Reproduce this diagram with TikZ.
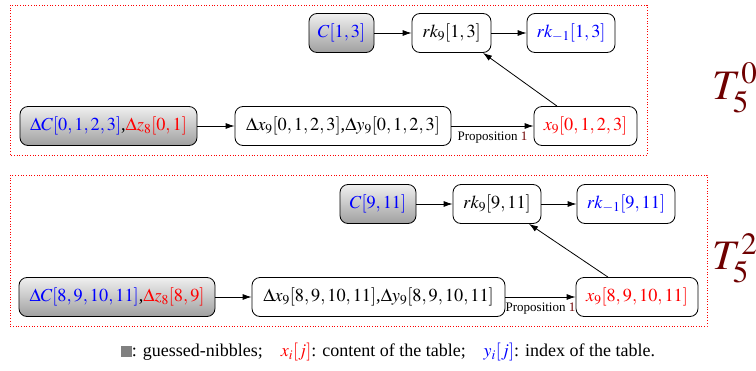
\documentclass[tikz,border=0pt]{standalone}
\usepackage{mathptmx}
\usepackage{fontspec}
\setmainfont{Liberation Serif}
\usetikzlibrary{arrows.meta}
\definecolor{darkred}{RGB}{110,0,0}
\begin{document}
\begin{tikzpicture}[x=1pt,y=-1pt,
  box/.style={draw=black, line width=0.8pt, rounded corners=8pt, minimum height=39pt, inner xsep=2pt, inner ysep=0pt, font=\fontsize{18.3}{22}\selectfont},
  guess/.style={box, top color=gray!12, bottom color=gray!75},
  frame/.style={draw=red, dotted, line width=0.7pt},
  arr/.style={-{Latex[length=9pt,width=6pt]}, line width=0.8pt},
  prop/.style={below, font=\fontsize{13}{15}\selectfont, inner sep=2pt, yshift=-3pt},
  tlab/.style={text=darkred, font=\fontsize{42}{46}\selectfont}
]
\useasboundingbox (0,0) rectangle (756,370);
% frames
\draw[frame] (10,5) rectangle (647,155);
\draw[frame] (10,175) rectangle (707,326);
% top section
\node[guess, minimum width=65pt] (c1) at (341.5,33) {\textcolor{blue}{$C[1,3]$}};
\node[box, minimum width=79pt] (rk1) at (451.5,33) {$rk_9[1,3]$};
\node[box, minimum width=88pt] (rm1) at (571,33) {\textcolor{blue}{$rk_{-1}[1,3]$}};
\node[guess, minimum width=177pt] (dc1) at (108.5,126) {\textcolor{blue}{$\Delta C[0,1,2,3]$},\textcolor{red}{$\Delta z_8[0,1]$}};
\node[box, minimum width=216pt] (dx1) at (343,126) {$\Delta x_9[0,1,2,3]$,$\Delta y_9[0,1,2,3]$};
\node[box, minimum width=103pt] (x1) at (585.5,126) {\textcolor{red}{$x_9[0,1,2,3]$}};
\draw[arr] (c1) -- (rk1);
\draw[arr] (rk1) -- (rm1);
\draw[arr] (dc1) -- (dx1);
\draw[arr] (dx1) -- node[prop] {Proposition \textcolor{darkred}{1}} (x1);
\draw[arr] ([xshift=-28.5pt]x1.north) -- ([xshift=31.5pt]rk1.south);
\node[tlab] (t0) at (735,88) {$T_5^0$};
% bottom section
\node[guess, minimum width=76pt] (c2) at (378,204) {\textcolor{blue}{$C[9,11]$}};
\node[box, minimum width=88pt] (rk2) at (497,204) {$rk_9[9,11]$};
\node[box, minimum width=98pt] (rm2) at (626,204) {\textcolor{blue}{$rk_{-1}[9,11]$}};
\node[guess, minimum width=196pt] (dc2) at (117,297) {\textcolor{blue}{$\Delta C[8,9,10,11]$},\textcolor{red}{$\Delta z_8[8,9]$}};
\node[box, minimum width=253pt] (dx2) at (378.5,297) {$\Delta x_9[8,9,10,11]$,$\Delta y_9[8,9,10,11]$};
\node[box, minimum width=122pt] (x2) at (637,297) {\textcolor{red}{$x_9[8,9,10,11]$}};
\draw[arr] (c2) -- (rk2);
\draw[arr] (rk2) -- (rm2);
\draw[arr] (dc2) -- (dx2);
\draw[arr] (dx2) -- node[prop] {Proposition \textcolor{darkred}{1}} (x2);
\draw[arr] ([xshift=-29pt]x2.north) -- ([xshift=32pt]rk2.south);
\node[tlab] (t2) at (735,258) {$T_5^2$};
% legend
\node[font=\fontsize{18}{21}\selectfont] (leg) at (388,352) {\textcolor{gray}{\rule{11pt}{11pt}}: guessed-nibbles;\quad \textcolor{red}{$x_i[j]$}: content of the table;\quad \textcolor{blue}{$y_i[j]$}: index of the table.};
\end{tikzpicture}
\end{document}
